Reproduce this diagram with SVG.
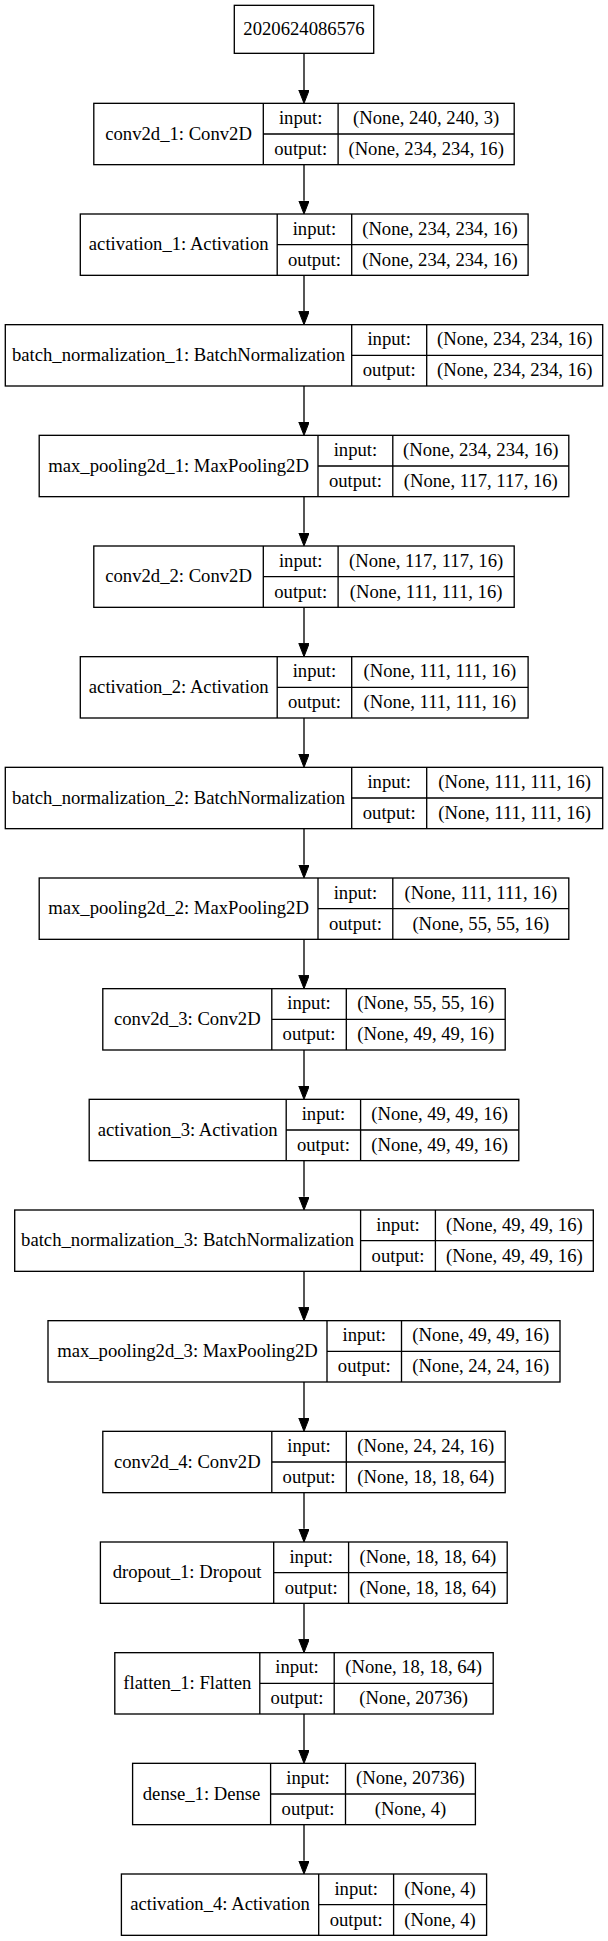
<svg xmlns="http://www.w3.org/2000/svg" width="608" height="1941" viewBox="0 0 608 1941" font-family="Liberation Serif, Times New Roman, serif">
<style>
.b{fill:none;stroke:#000;stroke-width:1.33}
.t{font-family:'Liberation Serif','Times New Roman',Times,serif;font-size:18.67px;fill:#000;text-anchor:middle}
.e{fill:none;stroke:#000;stroke-width:1.33}
</style>
<defs>
<marker id="ah" markerUnits="userSpaceOnUse" markerWidth="14" markerHeight="11" refX="0" refY="5.2" orient="auto">
<path d="M0,0 L13.33,5.2 L0,10.4 z" fill="#000" stroke="#000" stroke-width="1"/>
</marker>
</defs>
<rect width="608" height="1941" fill="#fff"/>
<g id="connectors">
<line class="e" x1="304" y1="53.33" x2="304" y2="90" marker-end="url(#ah)"/>
<line class="e" x1="304" y1="164.67" x2="304" y2="200.67" marker-end="url(#ah)"/>
<line class="e" x1="304" y1="275.33" x2="304" y2="311.33" marker-end="url(#ah)"/>
<line class="e" x1="304" y1="386" x2="304" y2="422" marker-end="url(#ah)"/>
<line class="e" x1="304" y1="496.67" x2="304" y2="532.67" marker-end="url(#ah)"/>
<line class="e" x1="304" y1="607.33" x2="304" y2="643.33" marker-end="url(#ah)"/>
<line class="e" x1="304" y1="718" x2="304" y2="754" marker-end="url(#ah)"/>
<line class="e" x1="304" y1="828.67" x2="304" y2="864.67" marker-end="url(#ah)"/>
<line class="e" x1="304" y1="939.33" x2="304" y2="975.33" marker-end="url(#ah)"/>
<line class="e" x1="304" y1="1050" x2="304" y2="1086" marker-end="url(#ah)"/>
<line class="e" x1="304" y1="1160.67" x2="304" y2="1196.67" marker-end="url(#ah)"/>
<line class="e" x1="304" y1="1271.33" x2="304" y2="1307.33" marker-end="url(#ah)"/>
<line class="e" x1="304" y1="1382" x2="304" y2="1418" marker-end="url(#ah)"/>
<line class="e" x1="304" y1="1492.67" x2="304" y2="1528.67" marker-end="url(#ah)"/>
<line class="e" x1="304" y1="1603.33" x2="304" y2="1639.33" marker-end="url(#ah)"/>
<line class="e" x1="304" y1="1714" x2="304" y2="1750" marker-end="url(#ah)"/>
<line class="e" x1="304" y1="1824.67" x2="304" y2="1860.67" marker-end="url(#ah)"/>
</g>
<g id="input_node">
<rect class="b" x="234.3" y="5.33" width="139.4" height="48"/>
<text class="t" x="304" y="35">2020624086576</text>
</g>
<g id="conv2d_1" transform="translate(0,103.33)">
<rect class="b" x="93.8" y="0" width="420.4" height="61.33"/>
<path class="b" d="M263.3,0V61.33M338.1,0V61.33M263.3,30.67H514.2"/>
<text class="t" x="178.55" y="36.2">conv2d_1: Conv2D</text>
<text class="t" x="300.7" y="20.8">input:</text>
<text class="t" x="300.7" y="51.5">output:</text>
<text class="t" x="426.15" y="20.8">(None, 240, 240, 3)</text>
<text class="t" x="426.15" y="51.5">(None, 234, 234, 16)</text>
</g>
<g id="activation_1" transform="translate(0,214)">
<rect class="b" x="80.3" y="0" width="447.8" height="61.33"/>
<path class="b" d="M277.2,0V61.33M351.7,0V61.33M277.2,30.67H528.1"/>
<text class="t" x="178.75" y="36.2">activation_1: Activation</text>
<text class="t" x="314.45" y="20.8">input:</text>
<text class="t" x="314.45" y="51.5">output:</text>
<text class="t" x="439.9" y="20.8">(None, 234, 234, 16)</text>
<text class="t" x="439.9" y="51.5">(None, 234, 234, 16)</text>
</g>
<g id="batch_normalization_1" transform="translate(0,324.67)">
<rect class="b" x="5.3" y="0" width="597.4" height="61.33"/>
<path class="b" d="M351.7,0V61.33M426.7,0V61.33M351.7,30.67H602.7"/>
<text class="t" x="178.5" y="36.2">batch_normalization_1: BatchNormalization</text>
<text class="t" x="389.2" y="20.8">input:</text>
<text class="t" x="389.2" y="51.5">output:</text>
<text class="t" x="514.7" y="20.8">(None, 234, 234, 16)</text>
<text class="t" x="514.7" y="51.5">(None, 234, 234, 16)</text>
</g>
<g id="max_pooling2d_1" transform="translate(0,435.33)">
<rect class="b" x="39.2" y="0" width="529.6" height="61.33"/>
<path class="b" d="M318,0V61.33M392.8,0V61.33M318,30.67H568.8"/>
<text class="t" x="178.6" y="36.2">max_pooling2d_1: MaxPooling2D</text>
<text class="t" x="355.4" y="20.8">input:</text>
<text class="t" x="355.4" y="51.5">output:</text>
<text class="t" x="480.8" y="20.8">(None, 234, 234, 16)</text>
<text class="t" x="480.8" y="51.5">(None, 117, 117, 16)</text>
</g>
<g id="conv2d_2" transform="translate(0,546)">
<rect class="b" x="93.8" y="0" width="420.4" height="61.33"/>
<path class="b" d="M263.3,0V61.33M338.1,0V61.33M263.3,30.67H514.2"/>
<text class="t" x="178.55" y="36.2">conv2d_2: Conv2D</text>
<text class="t" x="300.7" y="20.8">input:</text>
<text class="t" x="300.7" y="51.5">output:</text>
<text class="t" x="426.15" y="20.8">(None, 117, 117, 16)</text>
<text class="t" x="426.15" y="51.5">(None, 111, 111, 16)</text>
</g>
<g id="activation_2" transform="translate(0,656.67)">
<rect class="b" x="80.3" y="0" width="447.8" height="61.33"/>
<path class="b" d="M277.2,0V61.33M351.7,0V61.33M277.2,30.67H528.1"/>
<text class="t" x="178.75" y="36.2">activation_2: Activation</text>
<text class="t" x="314.45" y="20.8">input:</text>
<text class="t" x="314.45" y="51.5">output:</text>
<text class="t" x="439.9" y="20.8">(None, 111, 111, 16)</text>
<text class="t" x="439.9" y="51.5">(None, 111, 111, 16)</text>
</g>
<g id="batch_normalization_2" transform="translate(0,767.33)">
<rect class="b" x="5.3" y="0" width="597.4" height="61.33"/>
<path class="b" d="M351.7,0V61.33M426.7,0V61.33M351.7,30.67H602.7"/>
<text class="t" x="178.5" y="36.2">batch_normalization_2: BatchNormalization</text>
<text class="t" x="389.2" y="20.8">input:</text>
<text class="t" x="389.2" y="51.5">output:</text>
<text class="t" x="514.7" y="20.8">(None, 111, 111, 16)</text>
<text class="t" x="514.7" y="51.5">(None, 111, 111, 16)</text>
</g>
<g id="max_pooling2d_2" transform="translate(0,878)">
<rect class="b" x="39.2" y="0" width="529.6" height="61.33"/>
<path class="b" d="M318,0V61.33M392.8,0V61.33M318,30.67H568.8"/>
<text class="t" x="178.6" y="36.2">max_pooling2d_2: MaxPooling2D</text>
<text class="t" x="355.4" y="20.8">input:</text>
<text class="t" x="355.4" y="51.5">output:</text>
<text class="t" x="480.8" y="20.8">(None, 111, 111, 16)</text>
<text class="t" x="480.8" y="51.5">(None, 55, 55, 16)</text>
</g>
<g id="conv2d_3" transform="translate(0,988.67)">
<rect class="b" x="102.8" y="0" width="402.4" height="61.33"/>
<path class="b" d="M271.8,0V61.33M346.3,0V61.33M271.8,30.67H505.2"/>
<text class="t" x="187.3" y="36.2">conv2d_3: Conv2D</text>
<text class="t" x="309.05" y="20.8">input:</text>
<text class="t" x="309.05" y="51.5">output:</text>
<text class="t" x="425.75" y="20.8">(None, 55, 55, 16)</text>
<text class="t" x="425.75" y="51.5">(None, 49, 49, 16)</text>
</g>
<g id="activation_3" transform="translate(0,1099.33)">
<rect class="b" x="89.2" y="0" width="429.6" height="61.33"/>
<path class="b" d="M286.2,0V61.33M360.6,0V61.33M286.2,30.67H518.8"/>
<text class="t" x="187.7" y="36.2">activation_3: Activation</text>
<text class="t" x="323.4" y="20.8">input:</text>
<text class="t" x="323.4" y="51.5">output:</text>
<text class="t" x="439.7" y="20.8">(None, 49, 49, 16)</text>
<text class="t" x="439.7" y="51.5">(None, 49, 49, 16)</text>
</g>
<g id="batch_normalization_3" transform="translate(0,1210)">
<rect class="b" x="14.7" y="0" width="578.6" height="61.33"/>
<path class="b" d="M360.6,0V61.33M435.4,0V61.33M360.6,30.67H593.3"/>
<text class="t" x="187.65" y="36.2">batch_normalization_3: BatchNormalization</text>
<text class="t" x="398" y="20.8">input:</text>
<text class="t" x="398" y="51.5">output:</text>
<text class="t" x="514.35" y="20.8">(None, 49, 49, 16)</text>
<text class="t" x="514.35" y="51.5">(None, 49, 49, 16)</text>
</g>
<g id="max_pooling2d_3" transform="translate(0,1320.67)">
<rect class="b" x="48" y="0" width="512" height="61.33"/>
<path class="b" d="M327,0V61.33M401.5,0V61.33M327,30.67H560"/>
<text class="t" x="187.5" y="36.2">max_pooling2d_3: MaxPooling2D</text>
<text class="t" x="364.25" y="20.8">input:</text>
<text class="t" x="364.25" y="51.5">output:</text>
<text class="t" x="480.75" y="20.8">(None, 49, 49, 16)</text>
<text class="t" x="480.75" y="51.5">(None, 24, 24, 16)</text>
</g>
<g id="conv2d_4" transform="translate(0,1431.33)">
<rect class="b" x="102.8" y="0" width="402.4" height="61.33"/>
<path class="b" d="M271.8,0V61.33M346.3,0V61.33M271.8,30.67H505.2"/>
<text class="t" x="187.3" y="36.2">conv2d_4: Conv2D</text>
<text class="t" x="309.05" y="20.8">input:</text>
<text class="t" x="309.05" y="51.5">output:</text>
<text class="t" x="425.75" y="20.8">(None, 24, 24, 16)</text>
<text class="t" x="425.75" y="51.5">(None, 18, 18, 64)</text>
</g>
<g id="dropout_1" transform="translate(0,1542)">
<rect class="b" x="100.4" y="0" width="406.8" height="61.33"/>
<path class="b" d="M273.7,0V61.33M348.6,0V61.33M273.7,30.67H507.2"/>
<text class="t" x="187.05" y="36.2">dropout_1: Dropout</text>
<text class="t" x="311.15" y="20.8">input:</text>
<text class="t" x="311.15" y="51.5">output:</text>
<text class="t" x="427.9" y="20.8">(None, 18, 18, 64)</text>
<text class="t" x="427.9" y="51.5">(None, 18, 18, 64)</text>
</g>
<g id="flatten_1" transform="translate(0,1652.67)">
<rect class="b" x="114.8" y="0" width="378.4" height="61.33"/>
<path class="b" d="M259.8,0V61.33M334.2,0V61.33M259.8,30.67H493.2"/>
<text class="t" x="187.3" y="36.2">flatten_1: Flatten</text>
<text class="t" x="297" y="20.8">input:</text>
<text class="t" x="297" y="51.5">output:</text>
<text class="t" x="413.7" y="20.8">(None, 18, 18, 64)</text>
<text class="t" x="413.7" y="51.5">(None, 20736)</text>
</g>
<g id="dense_1" transform="translate(0,1763.33)">
<rect class="b" x="132.6" y="0" width="342.8" height="61.33"/>
<path class="b" d="M270.6,0V61.33M345.5,0V61.33M270.6,30.67H475.4"/>
<text class="t" x="201.6" y="36.2">dense_1: Dense</text>
<text class="t" x="308.05" y="20.8">input:</text>
<text class="t" x="308.05" y="51.5">output:</text>
<text class="t" x="410.45" y="20.8">(None, 20736)</text>
<text class="t" x="410.45" y="51.5">(None, 4)</text>
</g>
<g id="activation_4" transform="translate(0,1874)">
<rect class="b" x="121.4" y="0" width="365.2" height="61.33"/>
<path class="b" d="M318.7,0V61.33M393.6,0V61.33M318.7,30.67H486.6"/>
<text class="t" x="220.05" y="36.2">activation_4: Activation</text>
<text class="t" x="356.15" y="20.8">input:</text>
<text class="t" x="356.15" y="51.5">output:</text>
<text class="t" x="440.1" y="20.8">(None, 4)</text>
<text class="t" x="440.1" y="51.5">(None, 4)</text>
</g>
</svg>
